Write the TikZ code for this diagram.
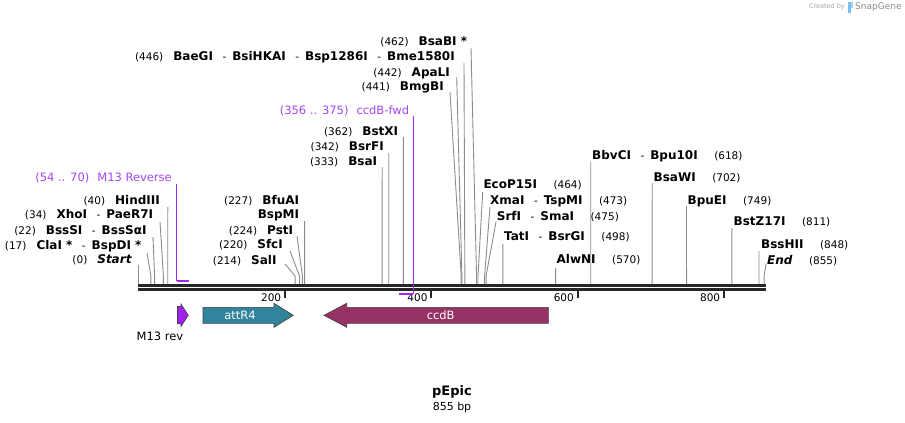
\documentclass[tikz,border=0pt]{standalone}
\usepackage{fontspec}
\setmainfont{DejaVu Sans}
\definecolor{sitegray}{RGB}{140,140,140}
\definecolor{primerc}{RGB}{160,40,240}
\definecolor{primertxt}{RGB}{165,70,245}
\definecolor{teal4}{RGB}{49,132,155}
\definecolor{ccdbc}{RGB}{150,50,100}
\definecolor{m13c}{RGB}{160,32,240}
\definecolor{snapblue}{RGB}{120,190,235}
\newcommand\enz[1]{{\fontsize{12}{14}\selectfont\bfseries #1}}
\newcommand\enzi[1]{{\fontsize{12}{14}\selectfont\bfseries\itshape #1}}
\newcommand\sepr{\hspace{9.5pt}-\hspace{6pt}}
\newcommand\lgap{\hspace{10pt}}
\newcommand\rgap{\hspace{16.5pt}}
\newcommand\cut[4]{%
  \coordinate (t#1) at (#2,#3);
  \coordinate (m#1) at ({138.5+0.7317*#4},276);
  \coordinate (b#1) at ({138.5+0.7317*#4},284);
  \draw[site] (t#1) -- (m#1) -- (b#1);}
\tikzset{
  lab/.style={inner sep=0pt, font=\fontsize{10.5}{12}\selectfont},
  labl/.style={lab, anchor=base east},
  labr/.style={lab, anchor=base west},
  plab/.style={inner sep=0pt, anchor=base east, text=primertxt, font=\fontsize{11.5}{13}\selectfont},
  site/.style={draw=sitegray, line width=0.9pt},
  feat/.style={draw=black!75, line width=0.6pt},
  ftxt/.style={inner sep=0pt, text=white, font=\fontsize{11.5}{13}\selectfont},
}
\begin{document}
\begin{tikzpicture}[x=1pt,y=-1pt]
\useasboundingbox (0,0) rectangle (905,423);
\fill[white] (0,0) rectangle (905,423);

% backbone
\draw[line width=2.6pt, black!85] (138,285.3) -- (766,285.3);
\draw[line width=2.4pt, black!85] (138,289.5) -- (766,289.5);
\foreach \v in {200,400,600,800} {
  \draw[line width=2pt, black!85] ({138.5+0.7317*\v},290.5) -- ++(0,7.5);
  \node[labl] (tk\v) at ({138.5+0.7317*\v-3.5},301) {\v};
}

% primer marks
\coordinate (pM13t) at (176.5,184);
\coordinate (pM13b) at (176.5,281);
\coordinate (pM13e) at (189.2,281);
\draw[primerc, line width=1pt] (pM13t) -- (pM13b);
\draw[primerc, line width=1.8pt] (pM13b) -- (pM13e);
\coordinate (pFwdt) at (413.3,116);
\coordinate (pFwdb) at (413.3,294);
\coordinate (pFwde) at (398.5,294);
\draw[primerc, line width=1pt] (pFwdt) -- (pFwdb);
\draw[primerc, line width=1.8pt] (pFwdb) -- (pFwde);

% left labels
\node[plab] (lM13) at (172,181.5) {(54 .. 70)\hspace{8pt}M13 Reverse};
\node[labl] (lHindIII) at (160,204) {(40)\lgap\enz{HindIII}};
\node[labl] (lXhoI) at (153.3,218.3) {(34)\lgap\enz{XhoI}\sepr\enz{PaeR7I}};
\node[labl] (lBssSI) at (146.7,234) {(22)\lgap\enz{BssSI}\sepr\enz{BssSαI}};
\node[labl] (lClaI) at (141.7,249) {(17)\lgap\enz{ClaI *}\sepr\enz{BspDI *}};
\node[labl] (lStart) at (131.7,263.3) {(0)\lgap\enzi{Start}};

% middle labels
\node[labl] (lBfuAI) at (299.3,204) {(227)\lgap\enz{BfuAI}};
\node[labl] (lBspMI) at (299.3,218) {\enz{BspMI}};
\node[labl] (lPstI) at (293.3,234) {(224)\lgap\enz{PstI}};
\node[labl] (lSfcI) at (283,248) {(220)\lgap\enz{SfcI}};
\node[labl] (lSalI) at (276.7,264) {(214)\lgap\enz{SalI}};

% top labels
\node[labl] (lBsaI) at (377.3,165.7) {(333)\lgap\enz{BsaI}};
\node[labl] (lBsrFI) at (384,150.7) {(342)\lgap\enz{BsrFI}};
\node[labl] (lBstXI) at (398.3,135.7) {(362)\lgap\enz{BstXI}};
\node[plab] (lFwd) at (409.3,114) {(356 .. 375)\hspace{8pt}ccdB-fwd};
\node[labl] (lBmgBI) at (444,90.7) {(441)\lgap\enz{BmgBI}};
\node[labl] (lApaLI) at (450,76.3) {(442)\lgap\enz{ApaLI}};
\node[labl] (lBme) at (455,60.7) {(446)\lgap\enz{BaeGI}\sepr\enz{BsiHKAI}\sepr\enz{Bsp1286I}\sepr\enz{Bme1580I}};
\node[labl] (lBsaBI) at (467.3,45.7) {(462)\lgap\enz{BsaBI *}};

% right labels
\node[labr] (lEcoP15I) at (483.3,188.3) {\enz{EcoP15I}\rgap(464)};
\node[labr] (lXmaI) at (490,204.7) {\enz{XmaI}\sepr\enz{TspMI}\rgap(473)};
\node[labr] (lSrfI) at (496.7,220) {\enz{SrfI}\sepr\enz{SmaI}\rgap(475)};
\node[labr] (lTatI) at (504,240.7) {\enz{TatI}\sepr\enz{BsrGI}\rgap(498)};
\node[labr] (lAlwNI) at (556.5,263.3) {\enz{AlwNI}\rgap(570)};
\node[labr] (lBbvCI) at (592,159) {\enz{BbvCI}\sepr\enz{Bpu10I}\rgap(618)};
\node[labr] (lBsaWI) at (653.5,181.3) {\enz{BsaWI}\rgap(702)};
\node[labr] (lBpuEI) at (687.5,204.7) {\enz{BpuEI}\rgap(749)};
\node[labr] (lBstZ) at (733.5,225.7) {\enz{BstZ17I}\rgap(811)};
\node[labr] (lBssHII) at (761,248) {\enz{BssHII}\rgap(848)};
\node[labr] (lEnd) at (767,264) {\enzi{End}\rgap(855)};

% cut site connectors
\cut{Start}{138.5}{265}{0}
\cut{ClaI}{147}{253}{17}
\cut{BssSI}{153}{237}{22}
\cut{XhoI}{160}{222}{34}
\cut{HindIII}{167.8}{207}{40}
\cut{BfuAI}{304.6}{221}{227}
\cut{PstI}{297}{236}{224}
\cut{SfcI}{290}{251}{220}
\cut{SalI}{285}{264}{214}
\cut{BsaI}{382.2}{167}{333}
\cut{BsrFI}{388.7}{153}{342}
\cut{BstXI}{403.4}{137}{362}
\cut{BmgBI}{450}{92}{441}
\cut{ApaLI}{456.7}{77}{442}
\cut{Bme}{464}{63}{446}
\cut{BsaBI}{471}{48}{462}
\cut{EcoP15I}{482.7}{192}{464}
\cut{XmaI}{490}{207}{473}
\cut{SrfI}{496}{222}{475}
\cut{TatI}{502.9}{244}{498}
\cut{AlwNI}{555.6}{268}{570}
\cut{BbvCI}{590.7}{162}{618}
\cut{BsaWI}{652.2}{183}{702}
\cut{BpuEI}{686.5}{206}{749}
\cut{BstZ}{731.9}{228}{811}
\cut{BssHII}{759}{251}{848}
\cut{End}{766}{264}{855}

% features
\draw[feat, fill=m13c] (177.5,306.5) -- (181,306.5) -- (181,304) -- (188.3,315.3) -- (181,326.5) -- (181,323.8) -- (177.5,323.8) -- cycle;
\draw[feat, fill=teal4] (203,307.3) -- (274,307.3) -- (274,303.3) -- (293.3,315.3) -- (274,327.3) -- (274,323.3) -- (203,323.3) -- cycle;
\draw[feat, fill=ccdbc] (548.3,307.3) -- (346.7,307.3) -- (346.7,303.3) -- (324,315.3) -- (346.7,327.3) -- (346.7,323.3) -- (548.3,323.3) -- cycle;
\node[ftxt] (fattR4) at (240,315.3) {attR4};
\node[ftxt] (fccdB) at (440.7,315.3) {ccdB};
\node[inner sep=0pt, font=\fontsize{11.5}{13}\selectfont] (fM13) at (160,336.7) {M13 rev};

% title
\node[inner sep=0pt, font=\fontsize{13}{15}\selectfont\bfseries] (title) at (452,392) {pEpic};
\node[inner sep=0pt, font=\fontsize{11}{13}\selectfont] (size) at (452,407.5) {855 bp};

% credit
\node[inner sep=0pt, anchor=east, text=black!35, font=\fontsize{6.5}{8}\selectfont] (cr1) at (845,7) {Created by};
\fill[snapblue] (848,2) rectangle (850.5,12.5);
\fill[snapblue!70] (850.5,2) rectangle (853,8);
\node[inner sep=0pt, anchor=west, text=black!45, font=\fontsize{9}{10}\selectfont] (cr2) at (855,7) {SnapGene};
\end{tikzpicture}
\end{document}
